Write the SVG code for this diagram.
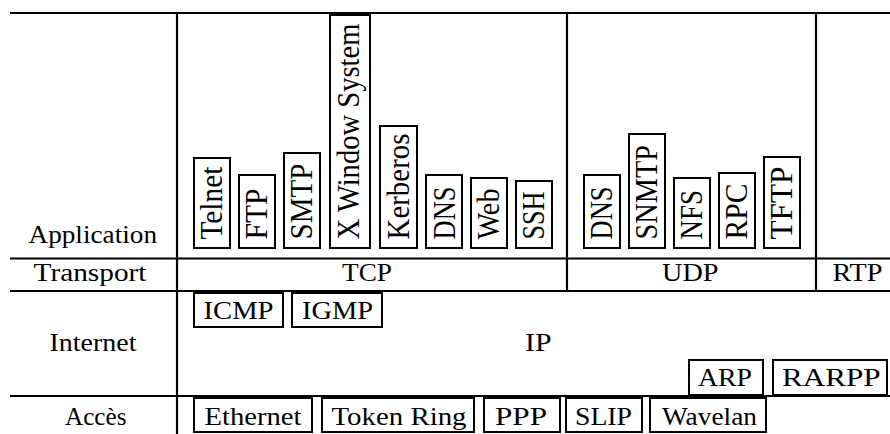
<svg xmlns="http://www.w3.org/2000/svg" width="890" height="434" viewBox="0 0 890 434">
<style>
.box{fill:none;stroke:#000;stroke-width:2}
.ln{stroke:#000;stroke-width:2.2;fill:none}
text{font-family:'Liberation Serif','Times New Roman',Times,'DejaVu Serif',serif;font-size:26px;fill:#000}
.r{font-size:31px}
</style>
<rect x="0" y="0" width="890" height="434" fill="#fff"/>
<g id="grid">
<line class="ln" x1="10" y1="13" x2="890" y2="13"/>
<line class="ln" x1="10" y1="258.5" x2="890" y2="258.5"/>
<line class="ln" x1="10" y1="291" x2="890" y2="291"/>
<line class="ln" x1="10" y1="396" x2="890" y2="396"/>
<line class="ln" x1="177" y1="12" x2="177" y2="434"/>
<line class="ln" x1="567" y1="12" x2="567" y2="292"/>
<line class="ln" x1="816" y1="12" x2="816" y2="292"/>
</g>
<g id="labels" font-family="Liberation Serif, serif">
<text x="28.5" y="243" textLength="128.5" lengthAdjust="spacingAndGlyphs">Application</text>
<text x="33.5" y="281" textLength="113" lengthAdjust="spacingAndGlyphs">Transport</text>
<text x="49.5" y="351" textLength="87" lengthAdjust="spacingAndGlyphs">Internet</text>
<text x="65" y="424.5" textLength="61.5" lengthAdjust="spacingAndGlyphs">Accès</text>
</g>
<g id="telnet"><rect class="box" x="194" y="158" width="36" height="90"/><text class="r" transform="translate(222,239.5) rotate(-90)" textLength="72.8" lengthAdjust="spacingAndGlyphs">Telnet</text></g>
<g id="ftp"><rect class="box" x="239" y="175" width="36" height="73"/><text class="r" transform="translate(267,239.5) rotate(-90)" textLength="51" lengthAdjust="spacingAndGlyphs">FTP</text></g>
<g id="smtp"><rect class="box" x="284" y="153" width="36" height="95"/><text class="r" transform="translate(312,239.5) rotate(-90)" textLength="76" lengthAdjust="spacingAndGlyphs">SMTP</text></g>
<g id="xwindow"><rect class="box" x="330" y="15" width="40" height="233"/><text class="r" transform="translate(358.5,239.5) rotate(-90)" textLength="216" lengthAdjust="spacingAndGlyphs">X Window System</text></g>
<g id="kerberos"><rect class="box" x="380" y="126" width="37" height="122"/><text class="r" transform="translate(409,239.5) rotate(-90)" textLength="106" lengthAdjust="spacingAndGlyphs">Kerberos</text></g>
<g id="dns-tcp"><rect class="box" x="426" y="175" width="36" height="73"/><text class="r" transform="translate(454.5,239.5) rotate(-90)" textLength="53" lengthAdjust="spacingAndGlyphs">DNS</text></g>
<g id="web"><rect class="box" x="471" y="178" width="36" height="70"/><text class="r" transform="translate(499,239.5) rotate(-90)" textLength="51" lengthAdjust="spacingAndGlyphs">Web</text></g>
<g id="ssh"><rect class="box" x="516" y="181" width="36" height="67"/><text class="r" transform="translate(544,239.5) rotate(-90)" textLength="48" lengthAdjust="spacingAndGlyphs">SSH</text></g>
<g id="dns-udp"><rect class="box" x="584" y="175" width="36" height="73"/><text class="r" transform="translate(612,239.5) rotate(-90)" textLength="53" lengthAdjust="spacingAndGlyphs">DNS</text></g>
<g id="snmtp"><rect class="box" x="629" y="134" width="36" height="114"/><text class="r" transform="translate(657,239.5) rotate(-90)" textLength="94.5" lengthAdjust="spacingAndGlyphs">SNMTP</text></g>
<g id="nfs"><rect class="box" x="674" y="178" width="36" height="70"/><text class="r" transform="translate(702,239.5) rotate(-90)" textLength="49.5" lengthAdjust="spacingAndGlyphs">NFS</text></g>
<g id="rpc"><rect class="box" x="719" y="173" width="36" height="75"/><text class="r" transform="translate(747,239.5) rotate(-90)" textLength="56" lengthAdjust="spacingAndGlyphs">RPC</text></g>
<g id="tftp"><rect class="box" x="764" y="157" width="36" height="91"/><text class="r" transform="translate(792,239.5) rotate(-90)" textLength="73" lengthAdjust="spacingAndGlyphs">TFTP</text></g>
<g id="tcp"><text x="342" y="281" textLength="50" lengthAdjust="spacingAndGlyphs">TCP</text></g>
<g id="udp"><text x="662" y="281" textLength="56.5" lengthAdjust="spacingAndGlyphs">UDP</text></g>
<g id="rtp"><text x="832.5" y="281" textLength="50" lengthAdjust="spacingAndGlyphs">RTP</text></g>
<g id="icmp"><rect class="box" x="194" y="293" width="89" height="34"/><text x="203.5" y="318.5" textLength="70" lengthAdjust="spacingAndGlyphs">ICMP</text></g>
<g id="igmp"><rect class="box" x="292" y="293" width="90" height="34"/><text x="302" y="318.5" textLength="71" lengthAdjust="spacingAndGlyphs">IGMP</text></g>
<g id="ip"><text x="525" y="351" textLength="26.5" lengthAdjust="spacingAndGlyphs">IP</text></g>
<g id="arp"><rect class="box" x="689" y="360" width="74" height="35"/><text x="698" y="386" textLength="54" lengthAdjust="spacingAndGlyphs">ARP</text></g>
<g id="rarpp"><rect class="box" x="773" y="360" width="114" height="35"/><text x="782" y="386" textLength="98.5" lengthAdjust="spacingAndGlyphs">RARPP</text></g>
<g id="ethernet"><rect class="box" x="194" y="398" width="118" height="34"/><text x="204.5" y="424.5" textLength="97" lengthAdjust="spacingAndGlyphs">Ethernet</text></g>
<g id="tokenring"><rect class="box" x="322" y="398" width="152" height="34"/><text x="331.5" y="424.5" textLength="135" lengthAdjust="spacingAndGlyphs">Token Ring</text></g>
<g id="ppp"><rect class="box" x="484" y="398" width="76" height="34"/><text x="495" y="424.5" textLength="52" lengthAdjust="spacingAndGlyphs">PPP</text></g>
<g id="slip"><rect class="box" x="566" y="398" width="76" height="34"/><text x="575" y="424.5" textLength="57" lengthAdjust="spacingAndGlyphs">SLIP</text></g>
<g id="wavelan"><rect class="box" x="650" y="398" width="116" height="34"/><text x="662" y="424.5" textLength="95" lengthAdjust="spacingAndGlyphs">Wavelan</text></g>
</svg>
